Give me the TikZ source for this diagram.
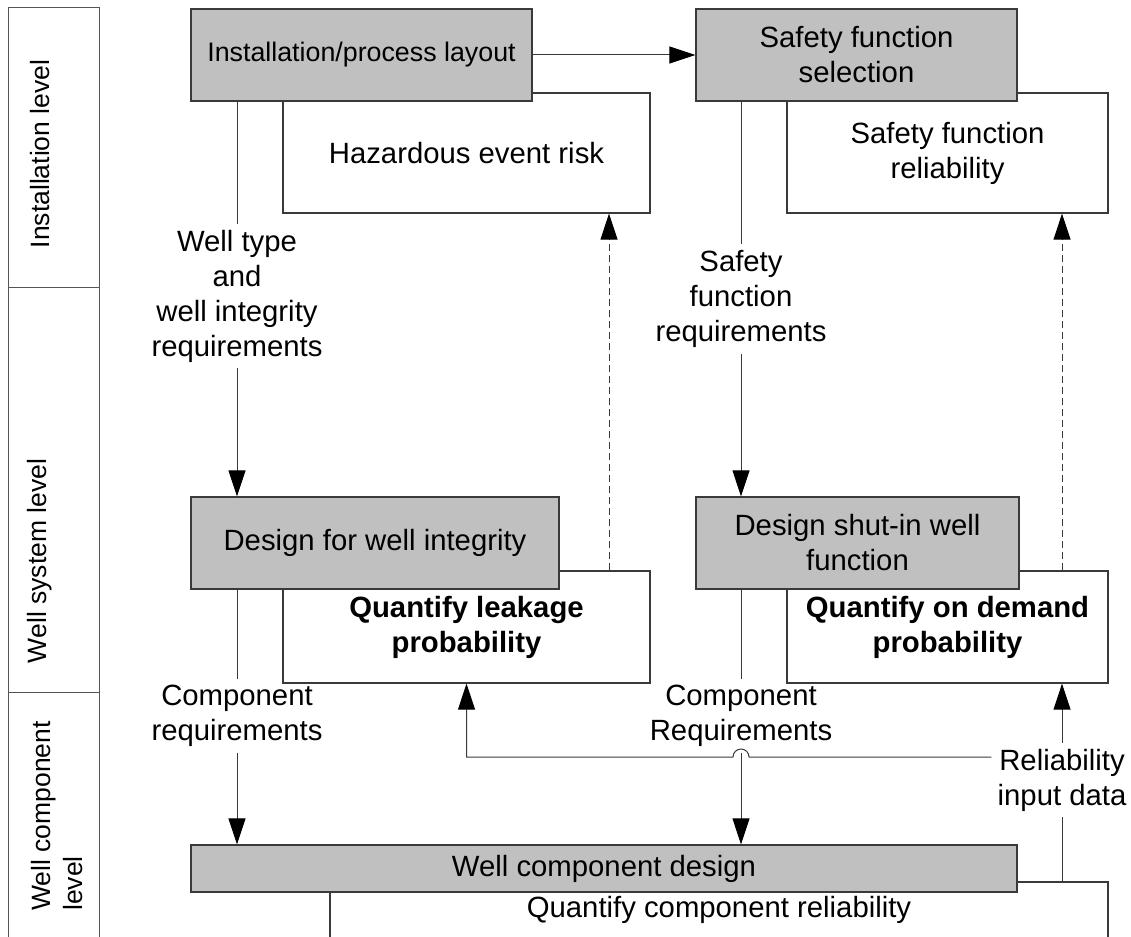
\documentclass[tikz,border=0pt]{standalone}
\usepackage{fontspec}
\setmainfont{Liberation Sans}
\usetikzlibrary{arrows.meta,calc}
\definecolor{boxgray}{HTML}{C0C0C0}
\definecolor{edge}{HTML}{3A3A3A}
\definecolor{rule}{HTML}{555555}

\begin{document}
\begin{tikzpicture}[x=1pt,y=-1pt,
  txt/.style={font=\fontsize{29.3}{35}\selectfont, align=center},
  boldtxt/.style={font=\fontsize{29.3}{35}\selectfont\bfseries, align=center},
  graybox/.style={draw=edge, line width=1.3pt, fill=boxgray, inner sep=0pt, txt},
  whitebox/.style={draw=edge, line width=1.3pt, fill=white, inner sep=0pt, txt},
  lbl/.style={txt, inner sep=6pt},
  link/.style={draw=edge, line width=1pt},
  arr/.style={link, -{Triangle[length=26pt,width=17pt,color=black]}},
  fbk/.style={arr, dash pattern=on 7pt off 4pt},
  lvl/.style={font=\fontsize{26.5}{32}\selectfont, rotate=90, inner sep=0pt, align=left},
  lane/.style={draw=rule, line width=1pt}
]
\useasboundingbox (0,0) rectangle (1131,936);
\clip (0,0) rectangle (1131,936);

% level lanes on the left
\draw[lane] (8,8) rectangle (99,287);
\draw[lane] (8,287) rectangle (99,692);
\draw[lane] (8,692) rectangle (99,960);
\node[lvl] (lv1) at (40,154) {Installation level};
\node[lvl] (lv2) at (40,561) {Well system level};
\node[lvl] (lv3) at (57,816) {Well component\\level};

% result boxes (behind the design boxes)
\node[whitebox, minimum width=367pt, minimum height=120pt] (haz) at (466.5,153) {Hazardous event risk};
\node[whitebox, minimum width=321pt, minimum height=120pt] (sfr) at (947.5,153) {Safety function\\reliability};
\node[whitebox, boldtxt, minimum width=367pt, minimum height=112pt] (qlp) at (466.5,627) {Quantify leakage\\probability};
\node[whitebox, boldtxt, minimum width=321pt, minimum height=112pt] (qod) at (947.5,627) {Quantify on demand\\probability};
\node[whitebox, minimum width=778pt, minimum height=56pt] (qcr) at (719,910) {Quantify component reliability};

% design boxes
\node[graybox, minimum width=341pt, minimum height=92pt, font=\fontsize{26.8}{35}\selectfont] (inst) at (361.5,55) {Installation/process layout};
\node[graybox, minimum width=321pt, minimum height=92pt] (sfs) at (856.5,55) {Safety function\\selection};
\node[graybox, minimum width=368pt, minimum height=92pt] (dwi) at (375,543) {Design for well integrity};
\node[graybox, minimum width=323pt, minimum height=92pt] (dsw) at (857.5,543) {Design shut-in well\\function};
\node[graybox, minimum width=826pt, minimum height=47pt] (wcd) at (604,868.5) {Well component design};

% flow labels
\node[lbl] (wt) at (237,296) {Well type\\and\\well integrity\\requirements};
\node[lbl] (sfq) at (741,299) {Safety\\function\\requirements};
\node[lbl] (cr1) at (237,716) {Component\\requirements};
\node[lbl] (cr2) at (741,716) {Component\\Requirements};
\node[lbl] (rel) at (1062,780) {Reliability\\input data};

% connectors
\draw[arr] (inst.east) -- (sfs.west);
\draw[link] (inst.south -| wt) -- (wt.north);
\draw[arr] (wt.south) -- (dwi.north -| wt);
\draw[link] (sfs.south -| sfq) -- (sfq.north);
\draw[arr] (sfq.south) -- (dsw.north -| sfq);
\draw[link] (dwi.south -| cr1) -- (cr1.north);
\draw[arr] (cr1.south) -- (wcd.north -| cr1);
\draw[link] (dsw.south -| cr2) -- (cr2.north);
\draw[arr] (cr2.south) -- (wcd.north -| cr2);

\coordinate (lk) at (609,0);
\coordinate (dm) at (1062,0);
\draw[fbk] (qlp.north -| lk) -- (haz.south -| lk);
\draw[fbk] (qod.north -| dm) -- (sfr.south -| dm);

\draw[link] (qcr.north -| rel) -- (rel.south);
\draw[arr] (rel.north) -- (qod.south -| rel);
\coordinate (hj) at (rel.west |- 0,757);
\draw[arr] (hj) -- ($(cr2.south |- hj)+(8,0)$)
  arc[start angle=0, end angle=180, radius=8pt]
  -- (qlp.south |- hj) -- (qlp.south);
\end{tikzpicture}
\end{document}
